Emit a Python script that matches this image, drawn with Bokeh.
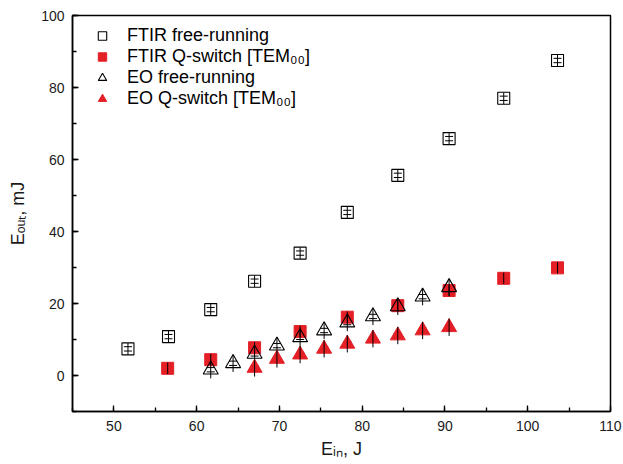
from bokeh.plotting import figure
from bokeh.models import (Range1d, SingleIntervalTicker, Legend, LegendItem,
                          ColumnDataSource, Whisker, TeeHead)
from bokeh.embed import file_html
from bokeh.resources import INLINE

# ---- data ----
ftir_free_x = [51.7, 56.6, 61.7, 67.0, 72.5, 78.2, 84.3, 90.5, 97.1, 103.6]
ftir_free_y = [7.4, 10.8, 18.3, 26.2, 34.0, 45.3, 55.6, 65.8, 77.0, 87.5]
ftir_free_err = [1.6, 1.6, 1.6, 1.6, 1.6, 1.6, 1.6, 1.6, 1.6, 1.6]

ftir_q_x = [56.5, 61.7, 67.0, 72.5, 78.2, 84.3, 90.5, 97.1, 103.6]
ftir_q_y = [2.0, 4.4, 7.7, 12.2, 16.2, 19.4, 23.6, 27.0, 29.9]
ftir_q_err = [1.6, 1.6, 1.6, 1.6, 1.6, 1.6, 1.6, 1.6, 1.6]

eo_free_x = [61.7, 64.4, 67.0, 69.7, 72.5, 75.4, 78.2, 81.3, 84.3, 87.3, 90.5]
eo_free_y = [1.6, 3.4, 6.0, 8.3, 10.6, 12.5, 14.7, 16.4, 19.2, 21.9, 24.5]
eo_free_err = [2.4, 2.4, 2.4, 2.4, 2.4, 2.4, 2.4, 2.4, 2.4, 2.4, 2.4]

eo_q_x = [67.0, 69.7, 72.5, 75.4, 78.2, 81.3, 84.3, 87.3, 90.5]
eo_q_y = [2.1, 4.6, 5.8, 7.4, 8.8, 10.2, 11.1, 12.5, 13.4]
eo_q_err = [2.4, 2.4, 2.4, 2.4, 2.4, 2.4, 2.4, 2.4, 2.4]

cap_offset = 0.6

labels = ["FTIR free-running", "FTIR Q-switch [TEM\u2080\u2080]",
          "EO free-running", "EO Q-switch [TEM\u2080\u2080]"]
x_title = "E\u1d62\u2099, J"
y_title = "E\u2092\u1d64\u209c, mJ"

RED = "#e41f26"
FONT = "Liberation Sans"

p = figure(width=623, height=464, output_backend="svg", toolbar_location=None,
           x_range=Range1d(45, 110), y_range=Range1d(-10, 100),
           min_border_left=72, min_border_right=13, min_border_top=15,
           min_border_bottom=53)
p.grid.visible = False
p.outline_line_color = "black"
p.outline_line_width = 1.5
p.outline_line_alpha = 1.0
p.background_fill_color = "white"
p.border_fill_color = "white"

p.xaxis.ticker = SingleIntervalTicker(interval=10, num_minor_ticks=2)
p.yaxis.ticker = SingleIntervalTicker(interval=20, num_minor_ticks=2)
for ax in (p.xaxis, p.yaxis):
    ax.axis_line_width = 1.5
    ax.axis_line_color = "black"
    ax.major_tick_in = 6
    ax.major_tick_out = 0
    ax.minor_tick_in = 4
    ax.minor_tick_out = 0
    ax.major_tick_line_width = 1.3
    ax.minor_tick_line_width = 1.3
    ax.major_label_text_font = FONT
    ax.major_label_text_font_size = "14px"
    ax.major_label_text_color = "#1a1a1a"
    ax.axis_label_text_font = FONT
    ax.axis_label_text_font_size = "18px"
    ax.axis_label_text_font_style = "normal"
    ax.axis_label_text_color = "#1a1a1a"
p.xaxis.major_label_standoff = 9
p.yaxis.major_label_standoff = 8
p.xaxis.axis_label = x_title
p.yaxis.axis_label = y_title
p.xaxis.axis_label_standoff = 5
p.yaxis.axis_label_standoff = 10


def add_series(xs, ys, errs, marker, size, fill, line, lw):
    src = ColumnDataSource(dict(
        x=xs, y=ys,
        lo=[y - e for y, e in zip(ys, errs)],
        hi=[y + e for y, e in zip(ys, errs)],
        clo=[y - cap_offset for y in ys],
        chi=[y + cap_offset for y in ys],
    ))
    r = p.scatter("x", "y", source=src, marker=marker, size=size,
                  fill_color=fill, line_color=line, line_width=lw,
                  fill_alpha=1.0 if fill else 0.0)
    p.segment(x0="x", y0="lo", x1="x", y1="hi", source=src,
              line_color="black", line_width=1)
    w = Whisker(source=src, base="x", lower="clo", upper="chi",
                dimension="height", line_alpha=0.0,
                upper_head=TeeHead(size=8, line_color="black", line_width=1),
                lower_head=TeeHead(size=8, line_color="black", line_width=1))
    p.add_layout(w)
    return r


r1 = add_series(ftir_free_x, ftir_free_y, ftir_free_err, "square", 12, None, "black", 1.1)
r2 = add_series(ftir_q_x, ftir_q_y, ftir_q_err, "square", 12, RED, RED, 1)
r3 = add_series(eo_free_x, eo_free_y, eo_free_err, "triangle", 15, None, "black", 1.1)
r4 = add_series(eo_q_x, eo_q_y, eo_q_err, "triangle", 15, RED, RED, 1)

legend = Legend(items=[LegendItem(label=labels[0], renderers=[r1]),
                       LegendItem(label=labels[1], renderers=[r2]),
                       LegendItem(label=labels[2], renderers=[r3]),
                       LegendItem(label=labels[3], renderers=[r4])],
                location=(12, 298), glyph_width=28, glyph_height=21,
                label_height=21, spacing=0, padding=4, margin=0,
                label_standoff=11,
                label_text_font=FONT, label_text_font_size="18px",
                label_text_color="black",
                border_line_alpha=0, background_fill_alpha=0)
p.add_layout(legend)

open("out.html", "w").write(file_html(p, INLINE))
